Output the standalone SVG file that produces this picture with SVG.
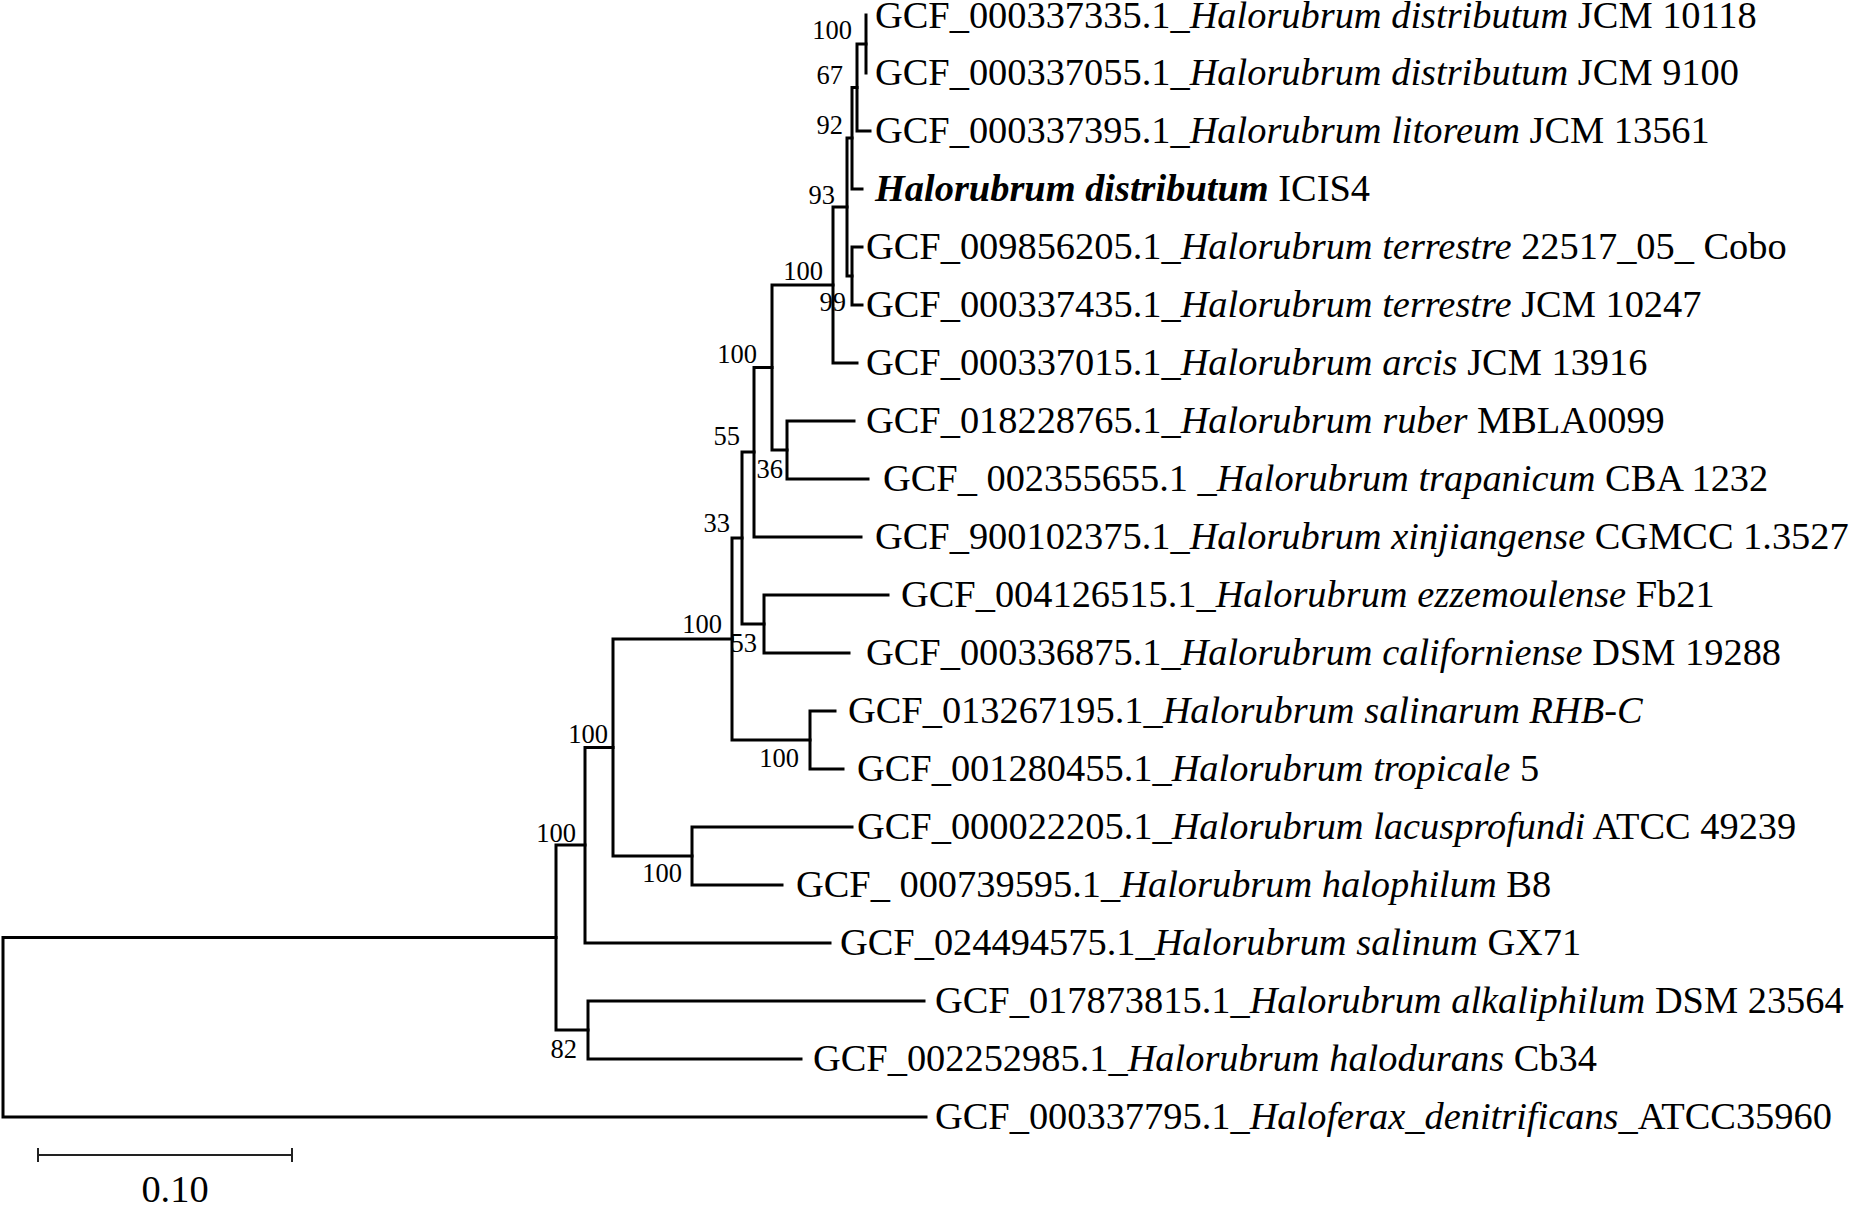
<svg xmlns="http://www.w3.org/2000/svg" width="1850" height="1208" viewBox="0 0 1850 1208">
<style>
.br{fill:none;stroke:#000;stroke-width:3;stroke-linejoin:miter;stroke-linecap:square}
.lf{font-family:"Liberation Serif","Times New Roman",serif;font-size:38.4px;fill:#000}
.bs{font-family:"Liberation Serif","Times New Roman",serif;font-size:26.5px;fill:#000;text-anchor:end}
.it{font-style:italic}
.bi{font-style:italic;font-weight:bold}
.sb{fill:none;stroke:#222;stroke-width:2}
</style>
<rect width="1850" height="1208" fill="#fff"/>
<g id="branches">
<path class="br" d="M866 15 V73"/>
<path class="br" d="M866 44 H857 V131 H870"/>
<path class="br" d="M857 87.5 H852 V189 H862"/>
<path class="br" d="M862 247 H852 V305 H862"/>
<path class="br" d="M852 138 H847 V276 H852"/>
<path class="br" d="M847 207 H833 V363 H857"/>
<path class="br" d="M854 421 H787 V479 H868"/>
<path class="br" d="M833 285 H772 V450 H787"/>
<path class="br" d="M772 367.5 H754 V537 H861"/>
<path class="br" d="M888 595 H764 V653 H849"/>
<path class="br" d="M754 452 H742 V624 H764"/>
<path class="br" d="M835 711 H810 V769 H843"/>
<path class="br" d="M742 538 H732 V740 H810"/>
<path class="br" d="M852 827 H692 V885 H782"/>
<path class="br" d="M732 639 H613 V856 H692"/>
<path class="br" d="M613 747.5 H585 V943 H830"/>
<path class="br" d="M924 1001 H588 V1059 H801"/>
<path class="br" d="M585 845 H556 V1030 H588"/>
<path class="br" d="M556 937.5 H3 V1117 H926"/>
</g>
<g id="bootstrap">
<text class="bs" x="852" y="39">100</text>
<text class="bs" x="843" y="84">67</text>
<text class="bs" x="843" y="134">92</text>
<text class="bs" x="835" y="204">93</text>
<text class="bs" x="846" y="311">99</text>
<text class="bs" x="823" y="280">100</text>
<text class="bs" x="757" y="363">100</text>
<text class="bs" x="783" y="478">36</text>
<text class="bs" x="740" y="445">55</text>
<text class="bs" x="730" y="532">33</text>
<text class="bs" x="757" y="652">53</text>
<text class="bs" x="722" y="633">100</text>
<text class="bs" x="799" y="767">100</text>
<text class="bs" x="608" y="743">100</text>
<text class="bs" x="682" y="882">100</text>
<text class="bs" x="576" y="842">100</text>
<text class="bs" x="577" y="1058">82</text>
</g>
<g id="leaf1"><text class="lf" x="875" y="28">GCF_000337335.1_<tspan class="it">Halorubrum distributum</tspan> JCM 10118</text></g>
<g id="leaf2"><text class="lf" x="875" y="85">GCF_000337055.1_<tspan class="it">Halorubrum distributum</tspan> JCM 9100</text></g>
<g id="leaf3"><text class="lf" x="875" y="143">GCF_000337395.1_<tspan class="it">Halorubrum litoreum</tspan> JCM 13561</text></g>
<g id="leaf4"><text class="lf" x="875" y="201"><tspan class="bi">Halorubrum distributum</tspan> ICIS4</text></g>
<g id="leaf5"><text class="lf" x="866" y="259">GCF_009856205.1_<tspan class="it">Halorubrum terrestre</tspan> 22517_05_ Cobo</text></g>
<g id="leaf6"><text class="lf" x="866" y="317">GCF_000337435.1_<tspan class="it">Halorubrum terrestre</tspan> JCM 10247</text></g>
<g id="leaf7"><text class="lf" x="866" y="375">GCF_000337015.1_<tspan class="it">Halorubrum arcis</tspan> JCM 13916</text></g>
<g id="leaf8"><text class="lf" x="866" y="433">GCF_018228765.1_<tspan class="it">Halorubrum ruber</tspan> MBLA0099</text></g>
<g id="leaf9"><text class="lf" x="883" y="491">GCF_ 002355655.1 _<tspan class="it">Halorubrum trapanicum</tspan> CBA 1232</text></g>
<g id="leaf10"><text class="lf" x="875" y="549">GCF_900102375.1_<tspan class="it">Halorubrum xinjiangense</tspan> CGMCC 1.3527</text></g>
<g id="leaf11"><text class="lf" x="901" y="607">GCF_004126515.1_<tspan class="it">Halorubrum ezzemoulense</tspan> Fb21</text></g>
<g id="leaf12"><text class="lf" x="866" y="665">GCF_000336875.1_<tspan class="it">Halorubrum californiense</tspan> DSM 19288</text></g>
<g id="leaf13"><text class="lf" x="848" y="723">GCF_013267195.1_<tspan class="it">Halorubrum salinarum RHB-C</tspan></text></g>
<g id="leaf14"><text class="lf" x="857" y="781">GCF_001280455.1_<tspan class="it">Halorubrum tropicale</tspan> 5</text></g>
<g id="leaf15"><text class="lf" x="857" y="839">GCF_000022205.1_<tspan class="it">Halorubrum lacusprofundi</tspan> ATCC 49239</text></g>
<g id="leaf16"><text class="lf" x="796" y="897">GCF_ 000739595.1_<tspan class="it">Halorubrum halophilum</tspan> B8</text></g>
<g id="leaf17"><text class="lf" x="840" y="955">GCF_024494575.1_<tspan class="it">Halorubrum salinum</tspan> GX71</text></g>
<g id="leaf18"><text class="lf" x="935" y="1013">GCF_017873815.1_<tspan class="it">Halorubrum alkaliphilum</tspan> DSM 23564</text></g>
<g id="leaf19"><text class="lf" x="813" y="1071">GCF_002252985.1_<tspan class="it">Halorubrum halodurans</tspan> Cb34</text></g>
<g id="leaf20"><text class="lf" x="935" y="1129">GCF_000337795.1_<tspan class="it">Haloferax_denitrificans</tspan>_ATCC35960</text></g>
<g id="scalebar">
<path class="sb" d="M38 1155 H292 M38 1148 V1162 M292 1148 V1162"/>
<text class="lf" x="175" y="1202" text-anchor="middle">0.10</text>
</g>
</svg>
